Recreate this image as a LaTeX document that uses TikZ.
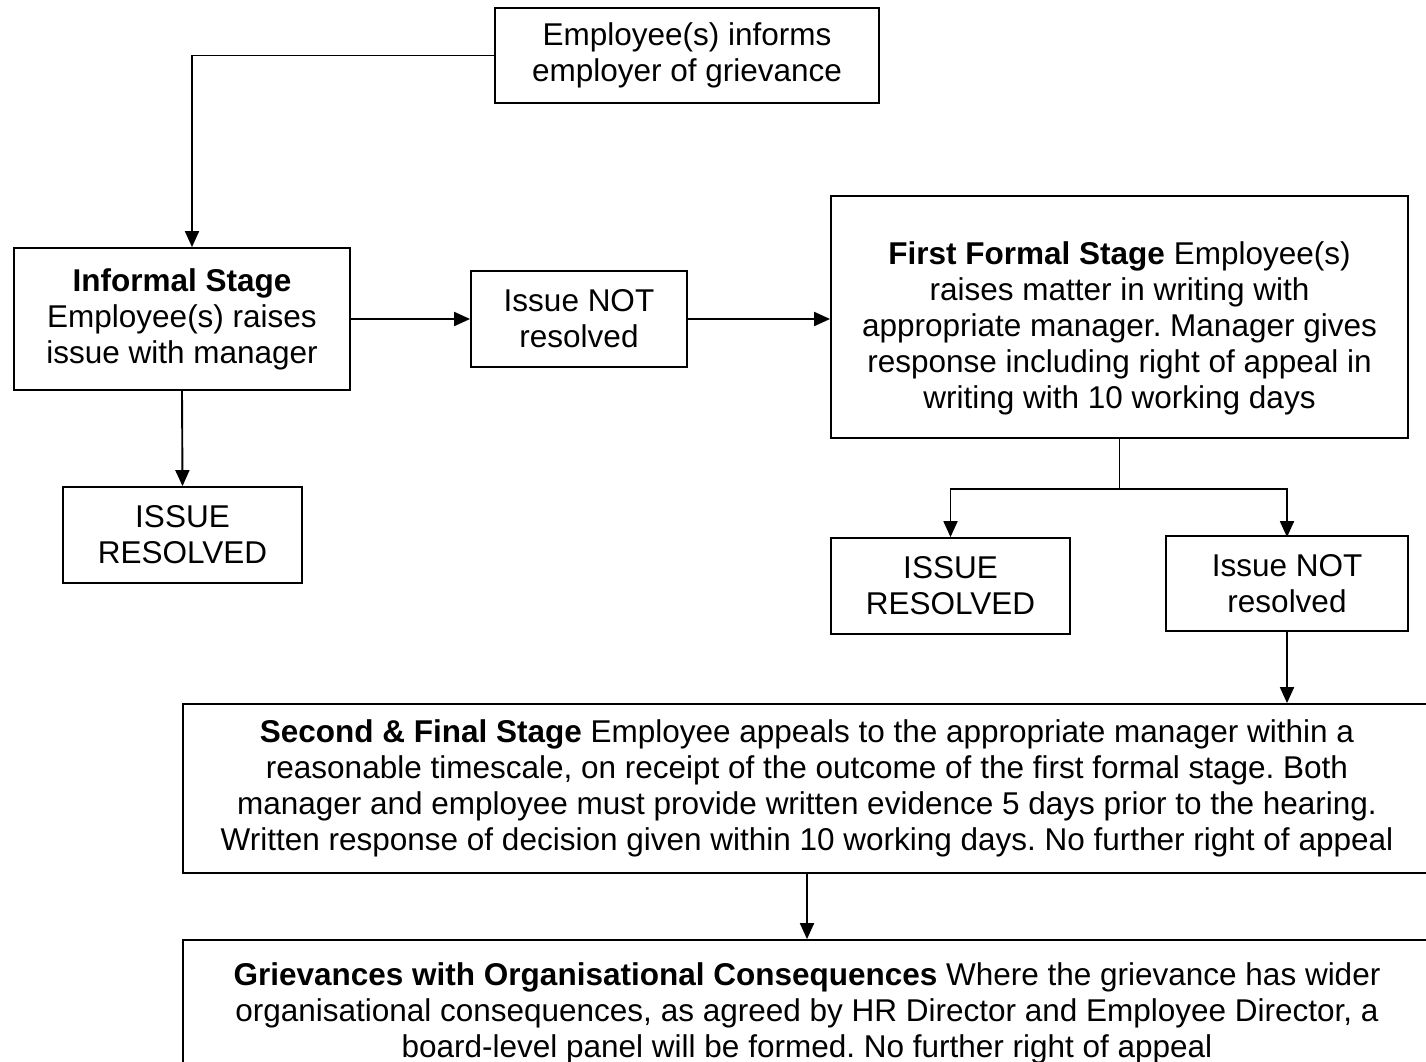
\documentclass[tikz,border=0pt]{standalone}
\usepackage{fontspec}
\setmainfont{Liberation Sans}
\frenchspacing
\usetikzlibrary{arrows.meta,calc}
\begin{document}
\begin{tikzpicture}[x=1pt,y=-1pt,
  box/.style={draw,line width=1.8pt,rectangle,inner sep=0pt,align=center,
    font=\fontsize{31.5}{36}\selectfont},
  arr/.style={line width=1.9pt,-{Triangle[length=16pt,width=14pt]}},
  ln/.style={line width=1.9pt}]
\useasboundingbox[fill=white] (0,0) rectangle (1426,1062);
% boxes: centres and sizes from the reference
\node[box,minimum width=384pt,minimum height=95pt] (top) at (687,55.5)
  {Employee(s) informs\\employer of grievance};
\node[box,minimum width=336pt,minimum height=142pt] (informal) at (182,319)
  {\textbf{Informal Stage}\\Employee(s) raises\\issue with manager};
\node[box,minimum width=216pt,minimum height=96pt] (nr1) at (579,319)
  {Issue NOT\\resolved};
\node[box,minimum width=239pt,minimum height=96pt] (res1) at (182.5,535)
  {ISSUE\\RESOLVED};
\node[box,minimum width=577pt,minimum height=242pt] (first) at (1119.5,317)
  {\rule{0pt}{46pt}\textbf{First Formal Stage} Employee(s)\\raises matter in writing with\\appropriate manager. Manager gives\\response including right of appeal in\\writing with 10 working days};
\node[box,minimum width=239pt,minimum height=96pt] (res2) at (950.5,586)
  {ISSUE\\RESOLVED};
\node[box,minimum width=242pt,minimum height=95pt] (nr2) at (1287,583.5)
  {Issue NOT\\resolved};
\node[box,minimum width=1248pt,minimum height=169pt] (second) at (807,788.5)
  {\textbf{Second \& Final Stage} Employee appeals to the appropriate manager within a\\reasonable timescale, on receipt of the outcome of the first formal stage. Both\\manager and employee must provide written evidence 5 days prior to the hearing.\\Written response of decision given within 10 working days. No further right of appeal};
\node[box,minimum width=1248pt,minimum height=146pt] (griev) at (807,1013)
  {\textbf{Grievances with Organisational Consequences} Where the grievance has wider\\organisational consequences, as agreed by HR Director and Employee Director, a\\board-level panel will be formed. No further right of appeal};
% connectors
\draw[arr] (top.west) -| ([xshift=10pt]informal.north);
\draw[arr] (informal.east) -- (nr1.west);
\draw[arr] (nr1.east) -- (nr1.east -| first.west);
\draw[arr] (informal.south) -- (res1.north);
\coordinate (split) at ($(first.south)+(0,50)$);
\draw[ln] (first.south) -- (split);
\draw[arr] (split) -| (res2.north);
\draw[arr] (split) -| ([yshift=-2pt]nr2.north);
\draw[arr] (nr2.south) -- (nr2.south |- second.north);
\draw[arr] (second.south) -- (griev.north);
\end{tikzpicture}
\end{document}
